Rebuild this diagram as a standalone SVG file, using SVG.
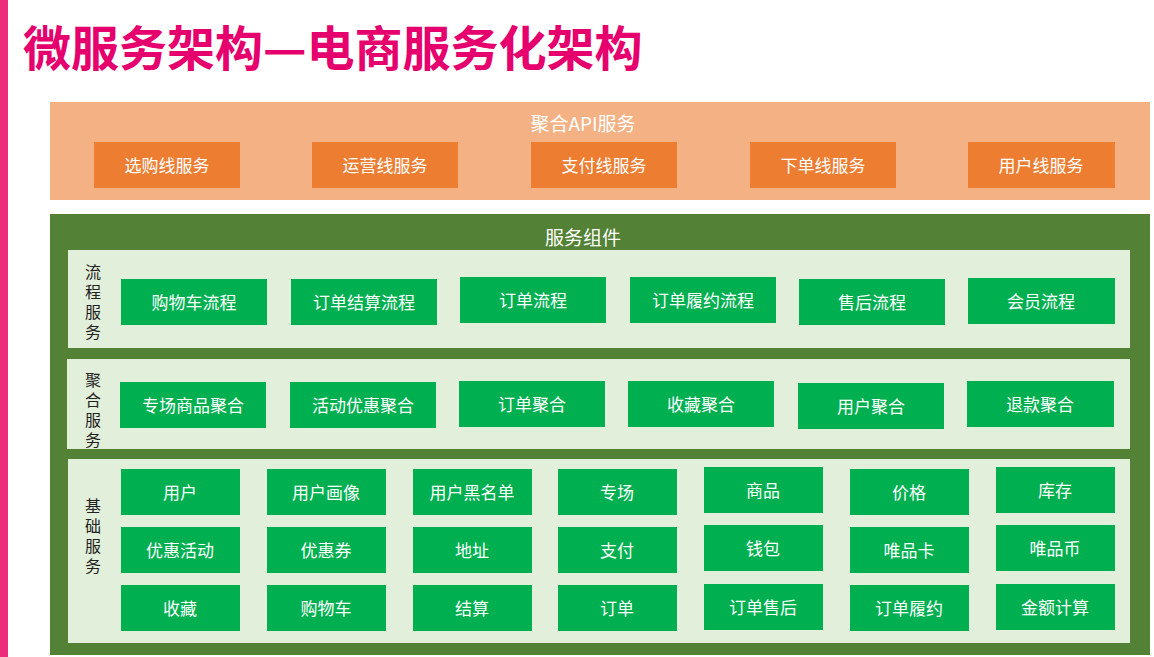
<svg xmlns="http://www.w3.org/2000/svg" width="1154" height="657" viewBox="0 0 1154 657">
<style>
text{font-family:"Noto Sans CJK SC","Noto Sans",sans-serif;}
.title{font-size:48px;font-weight:bold;fill:#E5006E;}
.band-o{fill:#F4B183;}
.box-o{fill:#ED7D31;}
.band-g{fill:#538135;}
.panel{fill:#E2EFDA;}
.box-g{fill:#00B050;}
.t{font-size:17px;fill:#FFFFFF;text-anchor:middle;dominant-baseline:central;}
.h{font-size:19px;fill:#FFFFFF;text-anchor:middle;dominant-baseline:central;}
.v{font-size:16px;fill:#222222;writing-mode:vertical-rl;letter-spacing:4px;}
</style>
<rect x="0" y="0" width="1154" height="657" fill="#FFFFFF"/>
<rect x="0" y="0" width="8" height="657" fill="#EE2A7B"/>
<text class="title" x="23" y="66">微服务架构—电商服务化架构</text>

<g id="api-layer">
<rect class="band-o" x="50" y="102" width="1100" height="98"/>
<text class="h" x="583" y="122">聚合API服务</text>
</g>
<g id="n-xuangou"><rect class="box-o" x="94" y="142" width="146" height="46"/><text class="t" x="167" y="164">选购线服务</text></g>
<g id="n-yunying"><rect class="box-o" x="312" y="142" width="146" height="46"/><text class="t" x="385" y="164">运营线服务</text></g>
<g id="n-zhifu"><rect class="box-o" x="531" y="142" width="146" height="46"/><text class="t" x="604" y="164">支付线服务</text></g>
<g id="n-xiadan"><rect class="box-o" x="750" y="142" width="146" height="46"/><text class="t" x="823" y="164">下单线服务</text></g>
<g id="n-yonghu-line"><rect class="box-o" x="968" y="142" width="147" height="46"/><text class="t" x="1041" y="164">用户线服务</text></g>

<g id="component-layer">
<rect class="band-g" x="50" y="214" width="1100" height="441"/>
<text class="h" x="583" y="236">服务组件</text>
<rect class="panel" x="68" y="250" width="1062" height="98"/>
<rect class="panel" x="67" y="359" width="1063" height="90"/>
<rect class="panel" x="68" y="459" width="1062" height="184"/>
</g>

<g id="label-liucheng"><text class="v" x="93" y="264">流程服务</text></g>
<g id="label-juhe"><text class="v" x="93" y="372">聚合服务</text></g>
<g id="label-jichu"><text class="v" x="93" y="498">基础服务</text></g>

<g id="n-gouwuche-liucheng"><rect class="box-g" x="121" y="279" width="146" height="46"/><text class="t" x="194" y="301">购物车流程</text></g>
<g id="n-jiesuan-liucheng"><rect class="box-g" x="291" y="279" width="146" height="46"/><text class="t" x="364" y="301">订单结算流程</text></g>
<g id="n-dingdan-liucheng"><rect class="box-g" x="460" y="277" width="146" height="46"/><text class="t" x="533" y="299">订单流程</text></g>
<g id="n-lvyue-liucheng"><rect class="box-g" x="630" y="277" width="146" height="46"/><text class="t" x="703" y="299">订单履约流程</text></g>
<g id="n-shouhou-liucheng"><rect class="box-g" x="799" y="279" width="146" height="46"/><text class="t" x="872" y="301">售后流程</text></g>
<g id="n-huiyuan-liucheng"><rect class="box-g" x="968" y="278" width="147" height="46"/><text class="t" x="1041" y="300">会员流程</text></g>

<g id="n-zhuanchang-juhe"><rect class="box-g" x="120" y="382" width="146" height="46"/><text class="t" x="193" y="404">专场商品聚合</text></g>
<g id="n-huodong-juhe"><rect class="box-g" x="290" y="382" width="146" height="46"/><text class="t" x="363" y="404">活动优惠聚合</text></g>
<g id="n-dingdan-juhe"><rect class="box-g" x="459" y="381" width="146" height="46"/><text class="t" x="532" y="403">订单聚合</text></g>
<g id="n-shoucang-juhe"><rect class="box-g" x="628" y="381" width="146" height="46"/><text class="t" x="701" y="403">收藏聚合</text></g>
<g id="n-yonghu-juhe"><rect class="box-g" x="798" y="383" width="146" height="46"/><text class="t" x="871" y="405">用户聚合</text></g>
<g id="n-tuikuan-juhe"><rect class="box-g" x="967" y="381" width="147" height="46"/><text class="t" x="1040" y="403">退款聚合</text></g>

<g id="n-yonghu"><rect class="box-g" x="121" y="469" width="119" height="46"/><text class="t" x="180" y="491">用户</text></g>
<g id="n-huaxiang"><rect class="box-g" x="267" y="469" width="119" height="46"/><text class="t" x="326" y="491">用户画像</text></g>
<g id="n-heimingdan"><rect class="box-g" x="413" y="469" width="119" height="46"/><text class="t" x="472" y="491">用户黑名单</text></g>
<g id="n-zhuanchang"><rect class="box-g" x="558" y="469" width="119" height="46"/><text class="t" x="617" y="491">专场</text></g>
<g id="n-shangpin"><rect class="box-g" x="704" y="467" width="119" height="46"/><text class="t" x="763" y="489">商品</text></g>
<g id="n-jiage"><rect class="box-g" x="850" y="469" width="119" height="46"/><text class="t" x="909" y="491">价格</text></g>
<g id="n-kucun"><rect class="box-g" x="996" y="467" width="119" height="46"/><text class="t" x="1055" y="489">库存</text></g>

<g id="n-youhuihuodong"><rect class="box-g" x="121" y="527" width="119" height="46"/><text class="t" x="180" y="549">优惠活动</text></g>
<g id="n-youhuiquan"><rect class="box-g" x="267" y="527" width="119" height="46"/><text class="t" x="326" y="549">优惠券</text></g>
<g id="n-dizhi"><rect class="box-g" x="413" y="527" width="119" height="46"/><text class="t" x="472" y="549">地址</text></g>
<g id="n-zhifu-base"><rect class="box-g" x="558" y="527" width="119" height="46"/><text class="t" x="617" y="549">支付</text></g>
<g id="n-qianbao"><rect class="box-g" x="704" y="525" width="119" height="46"/><text class="t" x="763" y="547">钱包</text></g>
<g id="n-weipinka"><rect class="box-g" x="850" y="527" width="119" height="46"/><text class="t" x="909" y="549">唯品卡</text></g>
<g id="n-weipinbi"><rect class="box-g" x="996" y="525" width="119" height="46"/><text class="t" x="1055" y="547">唯品币</text></g>

<g id="n-shoucang"><rect class="box-g" x="121" y="585" width="119" height="46"/><text class="t" x="180" y="607">收藏</text></g>
<g id="n-gouwuche"><rect class="box-g" x="267" y="585" width="119" height="46"/><text class="t" x="326" y="607">购物车</text></g>
<g id="n-jiesuan"><rect class="box-g" x="413" y="585" width="119" height="46"/><text class="t" x="472" y="607">结算</text></g>
<g id="n-dingdan"><rect class="box-g" x="558" y="585" width="119" height="46"/><text class="t" x="617" y="607">订单</text></g>
<g id="n-shouhou"><rect class="box-g" x="704" y="584" width="119" height="46"/><text class="t" x="763" y="606">订单售后</text></g>
<g id="n-lvyue"><rect class="box-g" x="850" y="585" width="119" height="46"/><text class="t" x="909" y="607">订单履约</text></g>
<g id="n-jine"><rect class="box-g" x="996" y="584" width="119" height="46"/><text class="t" x="1055" y="606">金额计算</text></g>

<g id="connectors"></g>
</svg>
